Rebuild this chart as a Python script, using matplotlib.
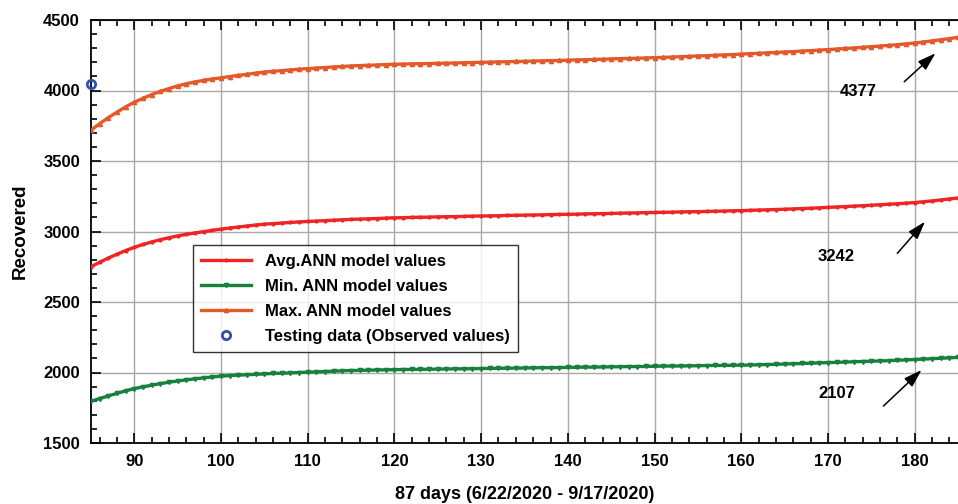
import numpy as np
import matplotlib
matplotlib.use("Agg")
import matplotlib.pyplot as plt
from matplotlib.ticker import MultipleLocator

plt.rcParams['font.family'] = ['Liberation Sans', 'DejaVu Sans']
plt.rcParams['font.weight'] = 'bold'

# days 85 .. 185
days = np.arange(85, 186)

# Max. ANN model values
max_vals = [3719, 3765, 3808, 3847, 3884, 3917,
            3945, 3971, 3994, 4014, 4033,
            4048, 4061, 4072, 4082, 4090,
            4099, 4107, 4115, 4123, 4131,
            4136, 4141, 4146, 4151, 4155,
            4159, 4163, 4167, 4171, 4174,
            4177, 4179, 4181, 4184, 4186,
            4187, 4189, 4190, 4191, 4193, 4194, 4195, 4197, 4198, 4200,
            4201, 4203, 4204, 4206, 4207, 4209, 4210, 4212, 4213, 4215,
            4217, 4218, 4220, 4222, 4224, 4226, 4227, 4229, 4231, 4233,
            4235, 4237, 4240, 4242, 4245, 4247, 4250, 4252, 4255, 4258,
            4261, 4264, 4267, 4270, 4273, 4276, 4280, 4283, 4287, 4290,
            4294, 4298, 4302, 4306, 4311, 4315, 4320, 4325, 4331, 4337,
            4344, 4352, 4360, 4368, 4377]

# Avg. ANN model values
avg_vals = [2750, 2782, 2812, 2839, 2865, 2888,
            2908, 2926, 2942, 2956, 2969,
            2980, 2990, 2999, 3008, 3017,
            3025, 3032, 3039, 3046, 3052,
            3056, 3060, 3064, 3068, 3071,
            3074, 3077, 3080, 3083, 3086,
            3088, 3090, 3092, 3095, 3097,
            3098, 3100, 3101, 3102, 3104, 3105, 3106, 3107, 3109, 3110,
            3111, 3112, 3114, 3115, 3116, 3117, 3118, 3120, 3121, 3122,
            3123, 3125, 3126, 3127, 3128, 3130, 3131, 3132, 3134, 3135,
            3136, 3137, 3139, 3140, 3141, 3142, 3144, 3145, 3147, 3148,
            3150, 3152, 3154, 3156, 3158, 3160, 3163, 3165, 3168, 3171,
            3174, 3177, 3180, 3183, 3186, 3190, 3193, 3197, 3201, 3205,
            3211, 3217, 3224, 3231, 3238]

# Min. ANN model values
min_vals = [1795, 1815, 1834, 1852, 1870, 1886,
            1898, 1910, 1921, 1931, 1940,
            1948, 1955, 1962, 1968, 1974,
            1978, 1981, 1984, 1987, 1990,
            1993, 1995, 1997, 2000, 2002,
            2004, 2007, 2009, 2012, 2014,
            2015, 2016, 2018, 2019, 2020,
            2021, 2022, 2022, 2023, 2024, 2025, 2026, 2026, 2027, 2028,
            2029, 2030, 2030, 2031, 2032, 2033, 2034, 2034, 2035, 2036,
            2037, 2038, 2038, 2039, 2040, 2041, 2042, 2042, 2043, 2044,
            2045, 2046, 2046, 2047, 2048, 2049, 2050, 2050, 2051, 2052,
            2053, 2055, 2056, 2058, 2060, 2062, 2064, 2066, 2068, 2070,
            2072, 2074, 2076, 2078, 2080, 2082, 2084, 2087, 2089, 2092,
            2095, 2098, 2101, 2104, 2107]

# observed (testing) data
obs_day = [85]
obs_val = [4046]

# end labels: text, text position, arrow tail, arrow head
end_labels = ["4377", "3242", "2107"]
label_pos = [(173.5, 3991), (171.0, 2821), (171.0, 1852)]
arrow_tail = [(178.8, 4062), (178.0, 2845), (176.4, 1762)]
arrow_head = [(182.4, 4264), (181.2, 3070), (180.8, 2018)]

fig = plt.figure(figsize=(9.58, 5.04), dpi=100)
ax = fig.add_axes([91/958, 61/504, 867/958, 423/504])

ax.plot(days, avg_vals, color='#f02424', lw=2.4, marker='.', ms=4,
        label='Avg.ANN model values', zorder=3)
ax.plot(days, min_vals, color='#16803c', lw=2.4, marker='v', ms=3,
        label='Min. ANN model values', zorder=3)
ax.plot(days, max_vals, color='#e4592a', lw=2.4, marker='^', ms=3,
        label='Max. ANN model values', zorder=3)
ax.plot(obs_day, obs_val, linestyle='none', marker='o', ms=6, mfc='none',
        mec='#3050b4', mew=2, label='Testing data (Observed values)',
        clip_on=False, zorder=4)

for txt, pos, tail, head in zip(end_labels, label_pos, arrow_tail, arrow_head):
    ax.text(pos[0], pos[1], txt, ha='center', va='center', fontsize=12,
            fontweight='bold')
    ax.annotate('', xy=head, xytext=tail,
                arrowprops=dict(arrowstyle='-|>,head_length=1.1,head_width=0.35',
                                color='black', lw=1.1, shrinkA=0, shrinkB=0))

ax.set_xlim(85, 185)
ax.set_ylim(1500, 4500)
ax.xaxis.set_major_locator(MultipleLocator(10))
ax.xaxis.set_minor_locator(MultipleLocator(2))
ax.yaxis.set_major_locator(MultipleLocator(500))
ax.yaxis.set_minor_locator(MultipleLocator(100))
ax.set_xticks([90, 100, 110, 120, 130, 140, 150, 160, 170, 180])
ax.tick_params(which='both', direction='in', top=True, right=False,
               labelsize=12, width=1.2, pad=8)
ax.tick_params(which='major', length=7)
ax.tick_params(which='minor', length=4)
ax.grid(True, which='major', color='#a8a8a8', lw=1.0, zorder=0)
ax.set_axisbelow(True)
for s in ['left', 'bottom', 'top']:
    ax.spines[s].set_linewidth(1.3)
ax.spines['right'].set_visible(False)

ax.set_xlabel('87 days (6/22/2020 - 9/17/2020)', fontsize=13,
              fontweight='bold', labelpad=12)
ax.set_ylabel('Recovered', fontsize=13.5, fontweight='bold', labelpad=10)

leg = ax.legend(loc='lower left', bbox_to_anchor=(0.1176, 0.215), fontsize=12,
                frameon=True, fancybox=False, handlelength=3.0,
                borderpad=0.5, labelspacing=0.6, handletextpad=0.8,
                borderaxespad=0)
leg.get_frame().set_edgecolor('black')
leg.get_frame().set_linewidth(1.0)

fig.savefig('out.png', dpi=100)
